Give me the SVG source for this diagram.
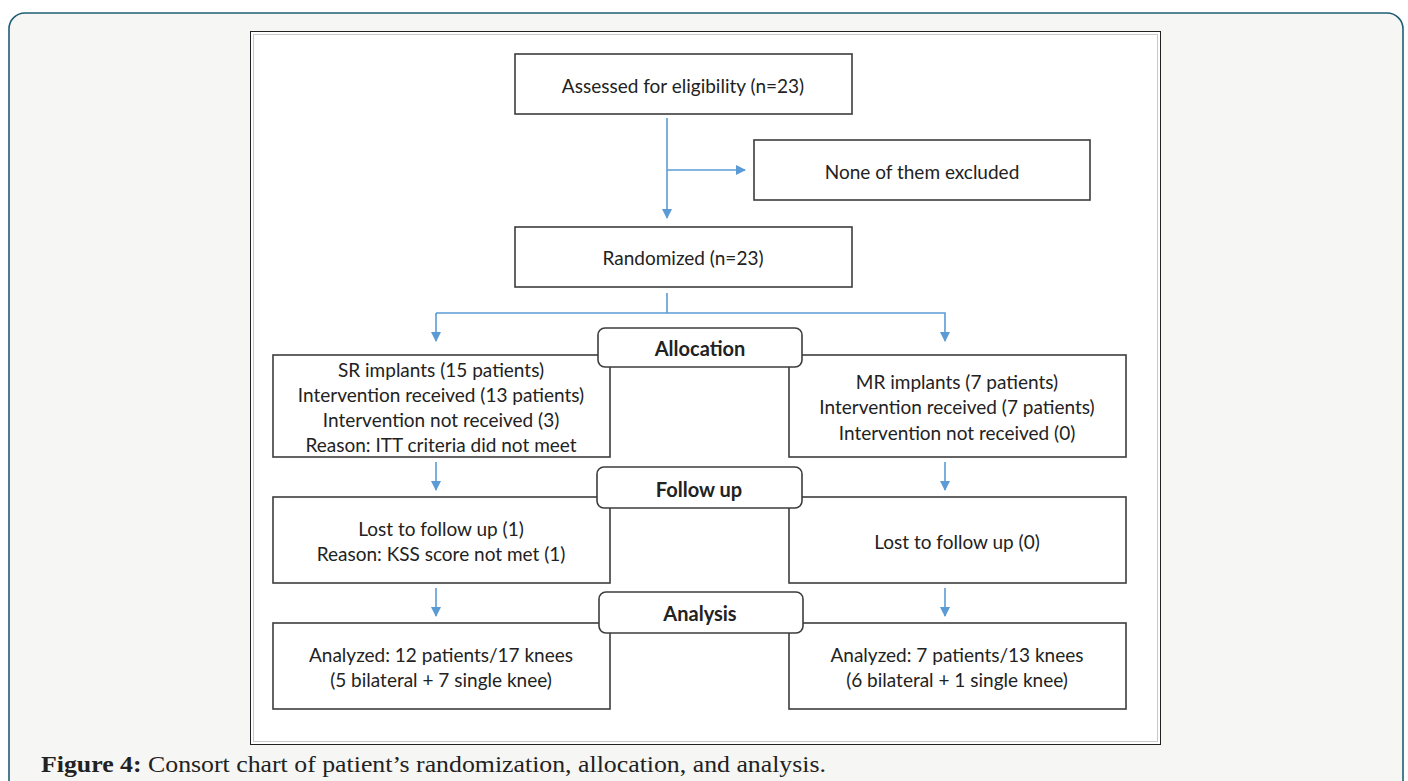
<svg xmlns="http://www.w3.org/2000/svg" width="1408" height="781" viewBox="0 0 1408 781">
<defs>
<marker id="ah" markerWidth="10" markerHeight="10" refX="9" refY="5" orient="auto" markerUnits="userSpaceOnUse">
<path d="M0,0 L10,5 L0,10 z" fill="#5b9bd5"/>
</marker>
<style>
.box{fill:#fff;stroke:#3c3c3c;stroke-width:1.6}
.stage{fill:#fff;stroke:#3c3c3c;stroke-width:1.6}
.t{font-family:Lato,"Open Sans","Liberation Sans",sans-serif;font-size:19px;fill:#222;text-anchor:middle;dominant-baseline:central}
.b{font-weight:bold;font-size:20px}
.c{stroke:#5b9bd5;stroke-width:1.6;fill:none}
</style>
</defs>
<rect x="9" y="13" width="1394" height="790" rx="16" fill="#f6f6f4" stroke="#1f5f74" stroke-width="1.6"/>
<rect x="250.5" y="31.5" width="910" height="713" fill="#fff" stroke="#222" stroke-width="1"/>
<rect x="253.5" y="34.5" width="904" height="707" fill="none" stroke="#c8c8c8" stroke-width="1"/>

<g id="connectors">
<line class="c" x1="667" y1="118" x2="667" y2="218" marker-end="url(#ah)"/>
<line class="c" x1="667" y1="170" x2="745" y2="170" marker-end="url(#ah)"/>
<polyline class="c" points="667,293 667,313"/>
<polyline class="c" points="436,313 945,313 945,341" marker-end="url(#ah)"/>
<line class="c" x1="436" y1="313" x2="436" y2="341" marker-end="url(#ah)"/>
<line class="c" x1="436" y1="462" x2="436" y2="490" marker-end="url(#ah)"/>
<line class="c" x1="945" y1="462" x2="945" y2="490" marker-end="url(#ah)"/>
<line class="c" x1="436" y1="588" x2="436" y2="616" marker-end="url(#ah)"/>
<line class="c" x1="945" y1="588" x2="945" y2="616" marker-end="url(#ah)"/>
</g>

<g id="assessed">
<rect class="box" x="515" y="54" width="337" height="60"/>
<text class="t" x="683" y="85">Assessed for eligibility (n=23)</text>
</g>
<g id="excluded">
<rect class="box" x="754" y="140" width="336" height="60"/>
<text class="t" x="922" y="171">None of them excluded</text>
</g>
<g id="randomized">
<rect class="box" x="515" y="227" width="337" height="60"/>
<text class="t" x="683" y="257">Randomized (n=23)</text>
</g>

<g id="sr-allocation">
<rect class="box" x="273" y="355" width="337" height="102"/>
<text class="t" x="441" y="369">SR implants (15 patients)</text>
<text class="t" x="441" y="394">Intervention received (13 patients)</text>
<text class="t" x="441" y="419">Intervention not received (3)</text>
<text class="t" x="441" y="444">Reason: ITT criteria did not meet</text>
</g>
<g id="mr-allocation">
<rect class="box" x="789" y="355" width="337" height="102"/>
<text class="t" x="957" y="381">MR implants (7 patients)</text>
<text class="t" x="957" y="406">Intervention received (7 patients)</text>
<text class="t" x="957" y="432">Intervention not received (0)</text>
</g>
<g id="allocation">
<rect class="stage" x="598" y="328" width="204" height="39" rx="7"/>
<text class="t b" x="700" y="348">Allocation</text>
</g>

<g id="sr-followup">
<rect class="box" x="273" y="497" width="337" height="86"/>
<text class="t" x="441" y="528">Lost to follow up (1)</text>
<text class="t" x="441" y="553">Reason: KSS score not met (1)</text>
</g>
<g id="mr-followup">
<rect class="box" x="789" y="497" width="337" height="86"/>
<text class="t" x="957" y="541">Lost to follow up (0)</text>
</g>
<g id="followup">
<rect class="stage" x="597" y="467" width="205" height="41" rx="7"/>
<text class="t b" x="699" y="489">Follow up</text>
</g>

<g id="sr-analysis">
<rect class="box" x="273" y="623" width="337" height="86"/>
<text class="t" x="441" y="654">Analyzed: 12 patients/17 knees</text>
<text class="t" x="441" y="679">(5 bilateral + 7 single knee)</text>
</g>
<g id="mr-analysis">
<rect class="box" x="789" y="623" width="337" height="86"/>
<text class="t" x="957" y="654">Analyzed: 7 patients/13 knees</text>
<text class="t" x="957" y="679">(6 bilateral + 1 single knee)</text>
</g>
<g id="analysis">
<rect class="stage" x="599" y="592" width="204" height="41" rx="7"/>
<text class="t b" x="700" y="613">Analysis</text>
</g>

<text x="41" y="772" font-family="'Liberation Serif',serif" font-size="24" fill="#222" textLength="785" lengthAdjust="spacingAndGlyphs"><tspan font-weight="bold">Figure 4:</tspan> Consort chart of patient’s randomization, allocation, and analysis.</text>
</svg>
